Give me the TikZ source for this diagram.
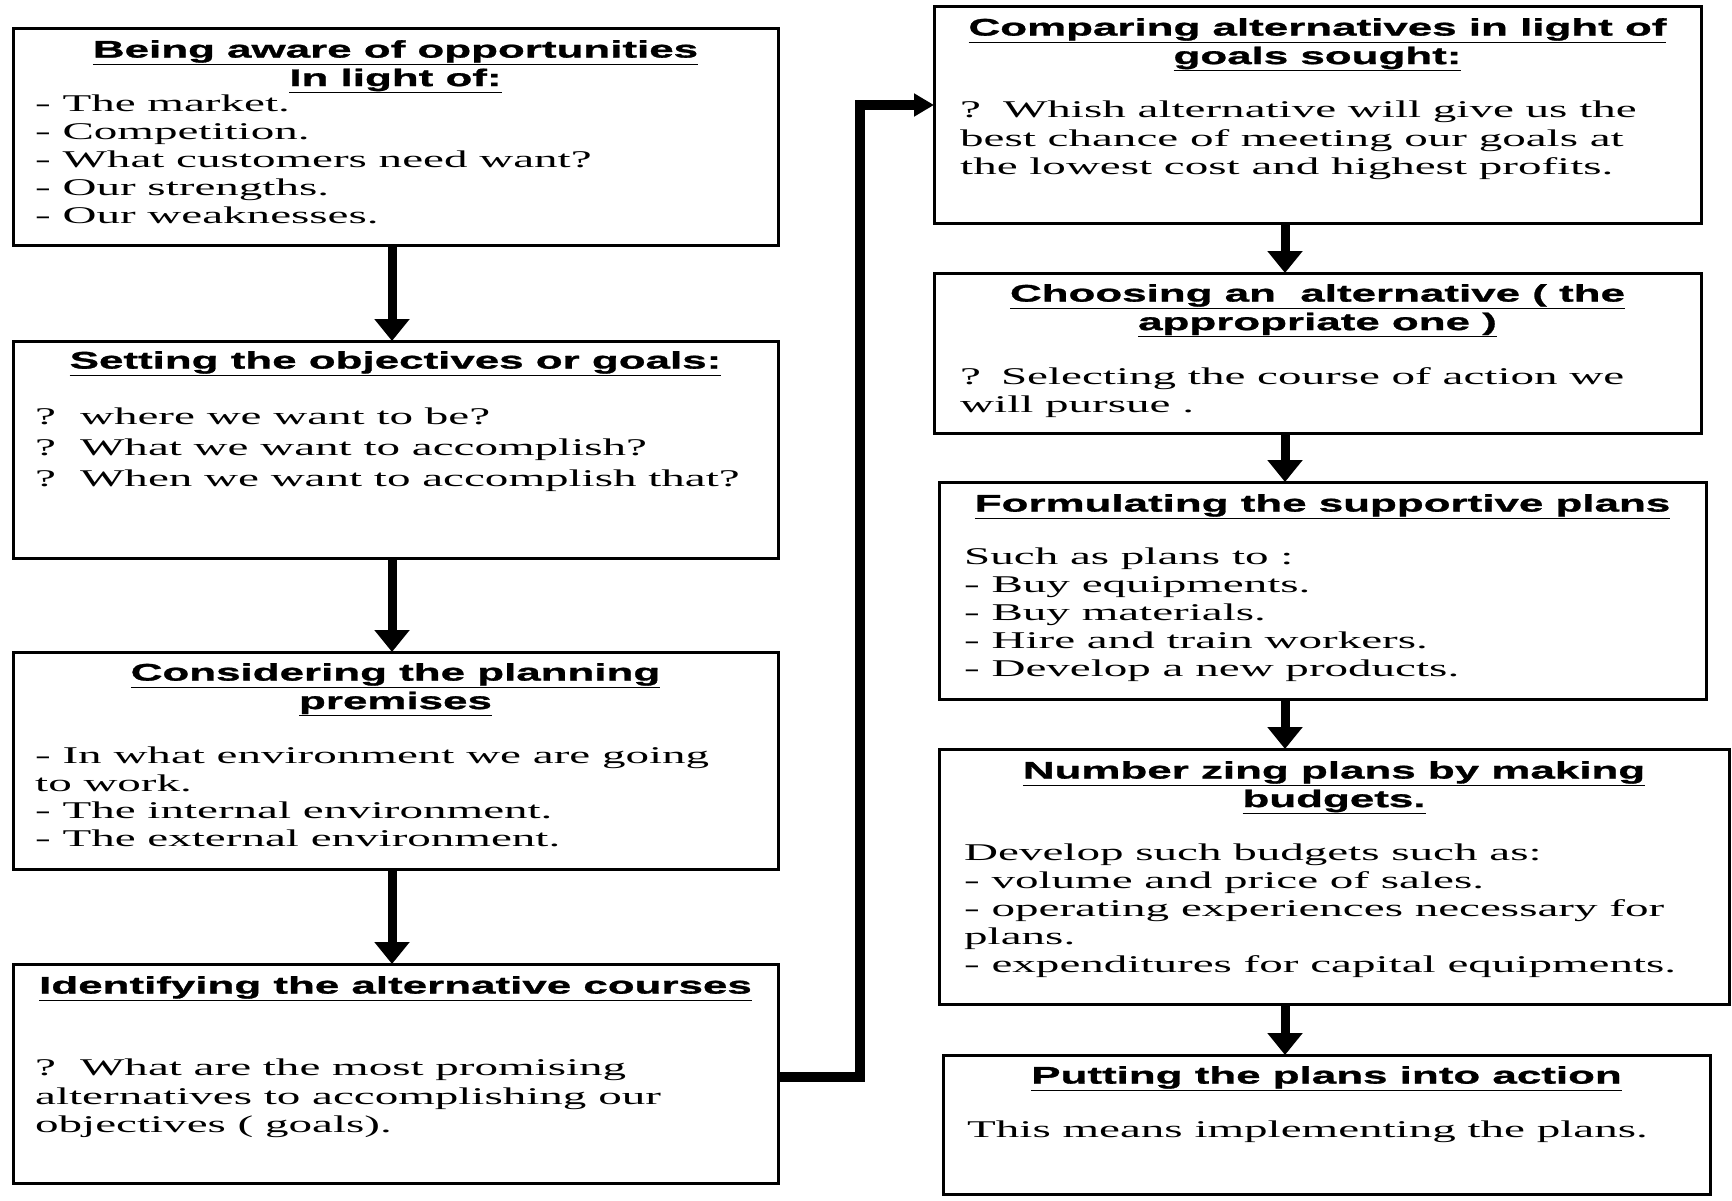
\documentclass[tikz,border=0pt]{standalone}
\usepackage{fontspec}
\usetikzlibrary{arrows.meta}
\newfontfamily\bodyf[FakeStretch=1.96]{Liberation Serif}
\newfontfamily\headf[FakeStretch=1.83,BoldFeatures={FakeBold=1.2}]{Liberation Sans}
\newcommand\hl[1]{\underline{#1}}
\begin{document}
\begin{tikzpicture}[x=1pt,y=-1pt,
  box/.style={draw, line width=3pt, inner sep=0pt, outer sep=0pt, anchor=north west},
  ttl/.style={inner sep=0pt, anchor=north, align=center, font=\headf\bfseries\fontsize{24}{28.5}\selectfont},
  bdy/.style={inner sep=0pt, anchor=north west, align=left, font=\bodyf\fontsize{24}{28}\selectfont},
  arr/.style={line width=9pt, -{Triangle[width=34pt,length=22pt]}},
  conn/.style={line width=10pt, -{Triangle[width=22pt,length=20pt]}}]
\useasboundingbox[fill=white] (0,0) rectangle (1732,1201);
% left column
\node[box, minimum width=765pt, minimum height=216pt] (b1) at (13,29) {};
\node[box, minimum width=765pt, minimum height=217pt] (b2) at (13,341) {};
\node[box, minimum width=765pt, minimum height=217pt] (b3) at (13,652) {};
\node[box, minimum width=765pt, minimum height=219pt] (b4) at (13,964) {};
% right column
\node[box, minimum width=767pt, minimum height=217pt] (r1) at (934,7) {};
\node[box, minimum width=767pt, minimum height=160pt] (r2) at (934,273) {};
\node[box, minimum width=767pt, minimum height=217pt] (r3) at (939,482) {};
\node[box, minimum width=790pt, minimum height=255pt] (r4) at (939,749) {};
\node[box, minimum width=767pt, minimum height=139pt] (r5) at (943,1055) {};
% titles
\node[ttl] (t1) at (b1.north |- 0,40) {\hl{Being aware of opportunities}\\\hl{In light of:}};
\node[ttl] (t2) at (b2.north |- 0,351) {\hl{Setting the objectives or goals:}};
\node[ttl] (t3) at (b3.north |- 0,663) {\hl{Considering the planning}\\\hl{premises}};
\node[ttl] (t4) at (b4.north |- 0,976) {\hl{Identifying the alternative courses}};
\node[ttl] (u1) at (r1.north |- 0,18) {\hl{Comparing alternatives in light of}\\\hl{goals sought:}};
\node[ttl] (u2) at (r2.north |- 0,284) {\hl{Choosing an\ \ alternative ( the}\\\hl{appropriate one )}};
\node[ttl] (u3) at (r3.north |- 0,494) {\hl{Formulating the supportive plans}};
\node[ttl] (u4) at (r4.north |- 0,761) {\hl{Number zing plans by making}\\\hl{budgets.}};
\node[ttl] (u5) at (r5.north |- 0,1066) {\hl{Putting the plans into action}};
% bodies
\node[bdy] (x1) at (35,95) {- The market.\\- Competition.\\- What customers need want?\\- Our strengths.\\- Our weaknesses.};
\node[bdy, font=\bodyf\fontsize{24}{31}\selectfont] (x2) at (35,408) {?\hspace{24pt}where we want to be?\\?\hspace{24pt}What we want to accomplish?\\?\hspace{24pt}When we want to accomplish that?};
\node[bdy, font=\bodyf\fontsize{24}{27.5}\selectfont] (x3) at (35,747) {- In what environment we are going\\to work.\\- The internal environment.\\- The external environment.};
\node[bdy, font=\bodyf\fontsize{24}{28.5}\selectfont] (x4) at (35,1059) {?\hspace{24pt}What are the most promising\\alternatives to accomplishing our\\objectives ( goals).};
\node[bdy, font=\bodyf\fontsize{24}{28.5}\selectfont] (y1) at (960,101) {?\hspace{22pt}Whish alternative will give us the\\best chance of meeting our goals at\\the lowest cost and highest profits.};
\node[bdy] (y2) at (960,367) {?\hspace{20pt}Selecting the course of action we\\will pursue .};
\node[bdy] (y3) at (964,548) {Such as plans to :\\- Buy equipments.\\- Buy materials.\\- Hire and train workers.\\- Develop a new products.};
\node[bdy] (y4) at (964,844) {Develop such budgets such as:\\- volume and price of sales.\\- operating experiences necessary for\\plans.\\- expenditures for capital equipments.};
\node[bdy] (y5) at (967,1121) {This means implementing the plans.};
% arrows
\coordinate (lc) at (392,0);
\coordinate (rc) at (1285,0);
\draw[arr] (b1.south -| lc) -- (b2.north -| lc);
\draw[arr] (b2.south -| lc) -- (b3.north -| lc);
\draw[arr] (b3.south -| lc) -- (b4.north -| lc);
\draw[arr] (r1.south -| rc) -- (r2.north -| rc);
\draw[arr] (r2.south -| rc) -- (r3.north -| rc);
\draw[arr] (r3.south -| rc) -- (r4.north -| rc);
\draw[arr] (r4.south -| rc) -- (r5.north -| rc);
\coordinate (j1) at (860,1077);
\coordinate (j2) at (860,105);
\draw[conn] (b4.east |- j1) -- (j1) -- (j2) -- (r1.west |- j2);
\end{tikzpicture}
\end{document}
